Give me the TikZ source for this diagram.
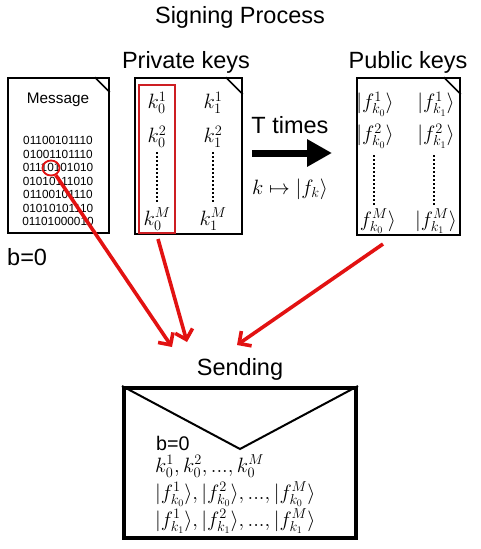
\documentclass[tikz,border=0pt]{standalone}
\usepackage[no-math]{fontspec}
\newfontfamily\arialf{Liberation Sans}
\usetikzlibrary{arrows.meta,shapes.geometric}
\definecolor{arrowred}{RGB}{226,18,18}
\definecolor{boxred}{RGB}{205,30,35}
\begin{document}
\begin{tikzpicture}[x=1pt,y=-1pt,
  title/.style={font=\arialf\fontsize{23.5}{28}\selectfont, inner sep=0pt},
  paper/.style={draw, line width=1.6pt, rectangle, inner sep=0pt},
  mth/.style={font=\fontsize{20.5}{24}\selectfont, inner sep=0pt},
  emth/.style={font=\fontsize{20}{24}\selectfont, inner sep=0pt, anchor=west},
  dots/.style={dotted, line width=2pt},
  redarrow/.style={draw=arrowred, line width=3.6pt, -{Straight Barb[length=9pt,width=18pt]}},
  fold/.style={line width=1.6pt}]
\useasboundingbox (0,0) rectangle (480,549);

% titles
\node[title] (ttl) at (240,17) {Signing Process};
\node[title] (privt) at (186,62) {Private keys};
\node[title] (pubt) at (408,62) {Public keys};
\node[title] (sendt) at (240,369) {Sending};
\node[title, anchor=west] (b0) at (7,257) {b=0};

% message sheet
\node[paper, minimum width=101pt, minimum height=155pt] (msg) at (58.5,155.5) {};
\draw[fold] (msg.north east) ++(-15,0) -- ++(15,15);
\node[font=\arialf\fontsize{15.3}{18}\selectfont, inner sep=0pt] (msgt) at (58,100) {Message};
\node[font=\arialf\fontsize{11.8}{13.5}\selectfont, inner sep=0pt, align=center] (bits) at (58,181)
  {01100101110\\01001101110\\01110101010\\01010111010\\01100101110\\01010101110\\01101000010};
\node[draw=arrowred, ellipse, minimum width=17pt, minimum height=15pt, inner sep=0pt, line width=1.8pt] (bitc) at (51,168) {};

% private keys sheet
\node[paper, minimum width=107pt, minimum height=156pt] (priv) at (188.5,156) {};
\draw[fold] (priv.north east) ++(-17,0) -- ++(17,17);
\node[draw=boxred, line width=1.5pt, minimum width=36pt, minimum height=148pt, inner sep=0pt] (pcol) at (157,159) {};
\node[mth] (k01) at (157,103) {$k_0^1$};
\node[mth] (k11) at (213,103) {$k_1^1$};
\node[mth] (k02) at (157,137) {$k_0^2$};
\node[mth] (k12) at (213,137) {$k_1^2$};
\node[mth] (k0M) at (157,219) {$k_0^M$};
\node[mth] (k1M) at (213,219) {$k_1^M$};
\draw[dots] (k02.south) ++(0,4) coordinate (d0a) -- (d0a |- 0,203) coordinate (d0b);
\draw[dots] (k12.south) ++(0,4) coordinate (d1a) -- (d1a |- 0,203) coordinate (d1b);

% T times arrow
\node[title] (ttimes) at (290,125) {T times};
\coordinate (ta) at (252,153);
\coordinate (tb) at (332,153);
\draw[line width=7pt, -{Triangle[length=25pt,width=26pt]}] (ta) -- (tb);
\node[mth] (kmap) at (290,189) {$k\mapsto|f_k\rangle$};

% public keys sheet
\node[paper, minimum width=103pt, minimum height=157pt] (pub) at (408.5,156.5) {};
\draw[fold] (pub.north east) ++(-17,0) -- ++(17,17);
\node[mth] (f01) at (375,104) {$|f^1_{k_0}\rangle$};
\node[mth] (f11) at (436,104) {$|f^1_{k_1}\rangle$};
\node[mth] (f02) at (375,136) {$|f^2_{k_0}\rangle$};
\node[mth] (f12) at (436,136) {$|f^2_{k_1}\rangle$};
\node[mth] (f0M) at (375,221) {$|f^M_{k_0}\rangle$};
\node[mth] (f1M) at (436,221) {$|f^M_{k_1}\rangle$};
\draw[dots] (374,155) coordinate (e0a) -- (374,205) coordinate (e0b);
\draw[dots] (434,155) coordinate (e1a) -- (434,205) coordinate (e1b);

% envelope
\node[draw, line width=4pt, minimum width=232pt, minimum height=150pt, inner sep=0pt] (env) at (240,463) {};
\coordinate (flap) at (240,449);
\draw[line width=2pt] (env.north west) -- (flap) -- (env.north east);
\node[font=\arialf\fontsize{19.7}{24}\selectfont, inner sep=0pt, anchor=west] (eb) at (156,443) {b=0};
\node[emth] (ek) at (155,466) {$k_0^1, k_0^2, ..., k_0^M$};
\node[emth] (ef0) at (155,494) {$|f^1_{k_0}\rangle, |f^2_{k_0}\rangle, ..., |f^M_{k_0}\rangle$};
\node[emth] (ef1) at (155,521) {$|f^1_{k_1}\rangle, |f^2_{k_1}\rangle, ..., |f^M_{k_1}\rangle$};

% red arrows
\coordinate (t1) at (172,347);
\coordinate (s2) at (158,239);
\coordinate (t2) at (187,342);
\coordinate (s3) at (383,244);
\coordinate (t3) at (237,345);
\draw[redarrow] (bitc) -- (t1);
\draw[redarrow] (s2) -- (t2);
\draw[redarrow] (s3) -- (t3);
\end{tikzpicture}
\end{document}
